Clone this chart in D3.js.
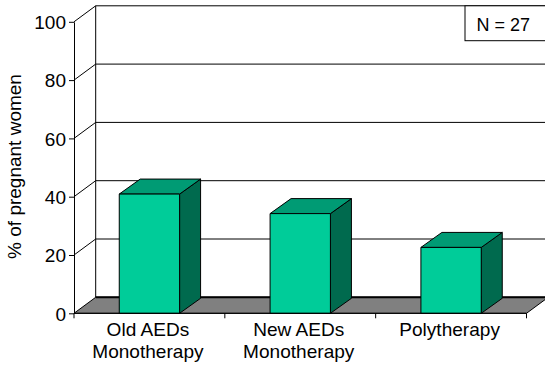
<!DOCTYPE html>
<html>
<head>
<meta charset="utf-8">
<script src="https://cdn.jsdelivr.net/npm/d3@7"></script>
<style>
  html, body { margin: 0; padding: 0; background: #fff; }
  svg { display: block; }
  text { font-family: "Liberation Sans", Arial, sans-serif; fill: #000; }
</style>
</head>
<body>
<svg id="chart" width="545" height="369"></svg>
<script>
// Share of pregnant women per treatment group
const categories = ["Old AEDs Monotherapy", "New AEDs Monotherapy", "Polytherapy"];
const labelLines = [["Old AEDs", "Monotherapy"], ["New AEDs", "Monotherapy"], ["Polytherapy"]];
const values = [40.9, 34.2, 22.6];
const yTicks = [0, 20, 40, 60, 80, 100];
const yTitle = "% of pregnant women";
const noteText = "N = 27";

const svg = d3.select("#chart");

// 3D frame: front plane and depth offset of the walls
const plotLeft = 74, plotRight = 526.5, plotBottom = 313.3, plotTop = 21.8;
const depth = { dx: 21.7, dy: -16 };
const barDepth = { dx: 21, dy: -15 };

const x = d3.scaleBand().domain(categories).range([plotLeft, plotRight])
  .paddingInner(0.6).paddingOuter(0.3);
const y = d3.scaleLinear().domain([0, 100]).range([plotBottom, plotTop]);

const colors = { front: "#00CC99", top: "#009B74", side: "#006A4E", floor: "#808080" };

// back wall gridlines (including top edge)
svg.append("g").selectAll("line").data(yTicks.filter(d => d > 0)).join("line")
  .attr("x1", plotLeft + depth.dx).attr("x2", 560)
  .attr("y1", d => y(d) + depth.dy).attr("y2", d => y(d) + depth.dy)
  .attr("stroke", "#000").attr("stroke-width", 1);

// side wall diagonals
svg.append("g").selectAll("line").data(yTicks.filter(d => d > 0)).join("line")
  .attr("x1", plotLeft).attr("y1", d => y(d))
  .attr("x2", plotLeft + depth.dx).attr("y2", d => y(d) + depth.dy)
  .attr("stroke", "#000").attr("stroke-width", 1);

// back wall left edge
svg.append("line")
  .attr("x1", plotLeft + depth.dx).attr("x2", plotLeft + depth.dx)
  .attr("y1", y(100) + depth.dy).attr("y2", y(0) + depth.dy)
  .attr("stroke", "#000");

// floor
const floorPts = [
  [plotLeft, y(0)], [plotLeft + depth.dx, y(0) + depth.dy],
  [plotRight + depth.dx, y(0) + depth.dy], [plotRight, y(0)]
];
svg.append("path")
  .attr("d", d3.line()(floorPts) + "Z")
  .attr("fill", colors.floor).attr("stroke", "#000").attr("stroke-width", 1);
svg.append("line")
  .attr("x1", plotLeft + depth.dx).attr("x2", 560)
  .attr("y1", y(0) + depth.dy).attr("y2", y(0) + depth.dy)
  .attr("stroke", "#000").attr("stroke-width", 2);

// bars
const bars = svg.append("g").selectAll("g").data(values).join("g");
bars.each(function (v, i) {
  const g = d3.select(this);
  const x0 = x(categories[i]), x1 = x0 + x.bandwidth();
  const y0 = y(0), y1 = y(v);
  const dx = barDepth.dx, dy = barDepth.dy;
  const poly = pts => d3.line()(pts) + "Z";
  // side face
  g.append("path").attr("d", poly([[x1, y1], [x1 + dx, y1 + dy], [x1 + dx, y0 + dy], [x1, y0]]))
    .attr("fill", colors.side).attr("stroke", "#000").attr("stroke-width", 1);
  // top face
  g.append("path").attr("d", poly([[x0, y1], [x0 + dx, y1 + dy], [x1 + dx, y1 + dy], [x1, y1]]))
    .attr("fill", colors.top).attr("stroke", "#000").attr("stroke-width", 1);
  // front face
  g.append("path").attr("d", poly([[x0, y1], [x1, y1], [x1, y0], [x0, y0]]))
    .attr("fill", colors.front).attr("stroke", "#000").attr("stroke-width", 1);
});

// value axis
const yAxis = svg.append("g").attr("transform", `translate(${plotLeft},0)`)
  .call(d3.axisLeft(y).tickValues(yTicks).tickSize(5).tickSizeOuter(0).tickPadding(3));
yAxis.select(".domain").attr("stroke", "#000");
yAxis.selectAll(".tick line").attr("stroke", "#000");
yAxis.selectAll(".tick text")
  .style("font-family", "'Liberation Sans', Arial, sans-serif")
  .style("font-size", "19px").attr("fill", "#000").attr("dy", "0.36em");

// category axis: baseline and boundary ticks
const bounds = d3.range(categories.length + 1).map(i => plotLeft + i * x.step());
svg.append("line").attr("x1", plotLeft).attr("x2", plotRight).attr("y1", y(0)).attr("y2", y(0))
  .attr("stroke", "#000");
svg.append("g").selectAll("line").data(bounds).join("line")
  .attr("x1", d => d).attr("x2", d => d).attr("y1", y(0)).attr("y2", y(0) + 5)
  .attr("stroke", "#000");

// category labels
svg.append("g").selectAll("text").data(categories).join("text")
  .attr("transform", d => `translate(${x(d) + x.bandwidth() / 2 - 1.5},335.5) scale(1.06,1)`)
  .attr("text-anchor", "middle").style("font-size", "18px")
  .each(function (d, i) {
    d3.select(this).selectAll("tspan").data(labelLines[i]).join("tspan")
      .attr("x", 0).attr("dy", (t, j) => j === 0 ? 0 : 22.5).text(t => t);
  });

// axis title
svg.append("text")
  .attr("transform", "translate(21,166.5) rotate(-90)")
  .attr("text-anchor", "middle").style("font-size", "19px")
  .text(yTitle);

// sample size box
svg.append("rect").attr("x", 465).attr("y", y(100) + depth.dy)
  .attr("width", 100).attr("height", 40.7 - (y(100) + depth.dy))
  .attr("fill", "#fff").attr("stroke", "#000");
svg.append("text").attr("x", 476.5).attr("y", 30.7).style("font-size", "18px").text(noteText);
</script>
</body>
</html>
